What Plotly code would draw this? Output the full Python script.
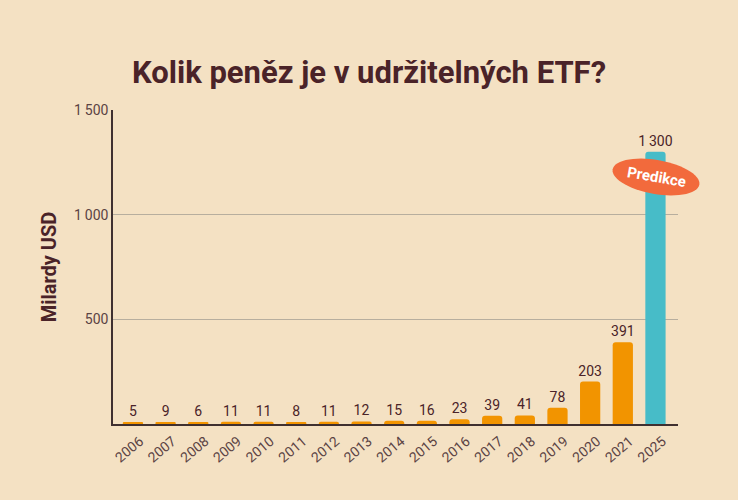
import math
import plotly.graph_objects as go

years = ["2006", "2007", "2008", "2009", "2010", "2011", "2012", "2013", "2014",
         "2015", "2016", "2017", "2018", "2019", "2020", "2021", "2025"]
values = [5, 9, 6, 11, 11, 8, 11, 12, 15, 16, 23, 39, 41, 78, 203, 391, 1300]
is_prediction = [False] * 16 + [True]
y_ticks = [500, 1000, 1500]
y_tick_labels = ["500", "1\u2009000", "1\u2009500"]

BG = "#F4E1C3"
ORANGE = "#F29400"
TEAL = "#47BCC8"
DARK = "#4A2328"
TICK = "#5B4343"

def fmt(v):
    s = f"{v:,}".replace(",", "\u2009")
    return s

colors = [TEAL if p else ORANGE for p in is_prediction]

fig = go.Figure()
fig.add_trace(go.Bar(
    x=years, y=values,
    marker=dict(color=colors, cornerradius=3, line=dict(width=0)),
    width=0.62,
    text=[fmt(v) for v in values],
    textposition="outside",
    constraintext="none",
    textfont=dict(family="Roboto", size=14, color=DARK),
    cliponaxis=False,
    hoverinfo="skip",
))

L, R, T, B = 113, 60, 110, 76
W, H = 738, 500
pw, ph = W - L - R, H - T - B

# Rotated ellipse badge in pixel space -> paper coords
cx, cy, a, b, ang = 656, 177, 44, 17, math.radians(10)
pts = []
for i in range(61):
    t = 2 * math.pi * i / 60
    ex, ey = a * math.cos(t), b * math.sin(t)
    px = cx + ex * math.cos(ang) - ey * math.sin(ang)
    py = cy + ex * math.sin(ang) + ey * math.cos(ang)
    pts.append(((px - L) / pw, (H - B - py) / ph))
path = "M " + " L ".join(f"{x:.5f},{y:.5f}" for x, y in pts) + " Z"
fig.add_shape(type="path", path=path, xref="paper", yref="paper",
              fillcolor="#F26A3C", line=dict(width=0), layer="above")
fig.add_annotation(x=(cx - L) / pw, y=(H - B - cy) / ph, xref="paper", yref="paper",
                   xanchor="center", yanchor="middle",
                   text="<b>Predikce</b>", showarrow=False, textangle=10,
                   font=dict(family="Roboto", size=15, color="white"))

fig.update_layout(
    width=W, height=H,
    paper_bgcolor=BG, plot_bgcolor=BG,
    margin=dict(l=L, r=R, t=T, b=B),
    showlegend=False,
    title=dict(text="<b>Kolik peněz je v udržitelných ETF?</b>", x=0.5, xanchor="center",
               y=1 - 72 / H, yanchor="middle",
               font=dict(family="Roboto", size=31, color=DARK)),
)
fig.update_xaxes(
    type="category", range=[-0.61, 16.69],
    tickangle=-40, tickfont=dict(family="Roboto", size=14, color=TICK),
    ticklabelshift=7, ticklabelstandoff=2,
    showline=True, linecolor="#3f3030", linewidth=1.5,
    ticks="", showgrid=False,
)
fig.update_yaxes(
    range=[0, 1500], tickvals=y_ticks, ticktext=y_tick_labels,
    tickfont=dict(family="Roboto", size=14, color=TICK),
    showline=True, linecolor="#3f3030", linewidth=1.5,
    showgrid=True, gridcolor="#B7AE9E", gridwidth=1, zeroline=False,
    ticks="", ticklen=0,
    title=dict(text="<b>Milardy USD</b>", font=dict(family="Roboto", size=20, color=DARK), standoff=12),
)
fig.write_html("out.html")
